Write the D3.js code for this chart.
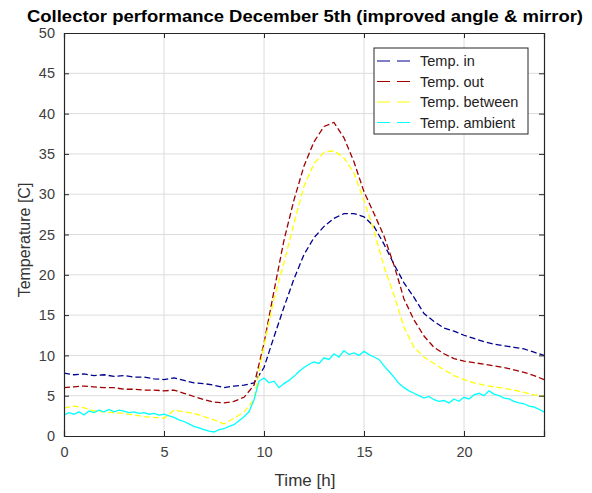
<!DOCTYPE html>
<html><head><meta charset="utf-8">
<script src="https://cdn.jsdelivr.net/npm/d3@7"></script>
<style>body{margin:0;background:#fff;} svg{display:block;font-family:"Liberation Sans",Arial,sans-serif;}</style>
</head><body>
<script>
const hours = [0,0.5,1,1.5,2,2.5,3,3.5,4,4.5,5,5.5,6,6.5,7,7.5,8,8.5,9,9.5,10,10.5,11,11.5,12,12.5,13,13.5,14,14.5,15,15.5,16,16.5,17,17.5,18,18.5,19,19.5,20,20.5,21,21.5,22,22.5,23,23.5,24];
const tempIn = [7.8,7.6,7.7,7.5,7.6,7.4,7.5,7.3,7.3,7.1,7.0,7.2,6.9,6.6,6.5,6.3,6.0,6.2,6.3,6.6,8.5,12.3,16,19.5,22.5,24.6,26,27,27.6,27.6,27.2,26,23.8,21.3,19,17.2,15.2,14.2,13.4,13,12.5,12.1,11.7,11.4,11.2,11,10.8,10.4,10];
const tempOut = [6.0,6.1,6.2,6.1,6.0,6.0,5.8,5.8,5.7,5.7,5.6,5.7,5.3,4.9,4.5,4.2,4.1,4.3,4.8,6.3,11.5,18,24.3,29.3,33.5,36.5,38.4,38.9,37,34,30.3,27.6,24.8,21.2,17,14.4,12.4,11.0,10.2,9.6,9.3,9.1,8.9,8.7,8.5,8.2,7.9,7.5,7.0];
const tempBetween = [3.5,3.7,3.5,3.1,3.0,2.9,2.8,2.6,2.4,2.3,2.2,3.2,3.0,2.8,2.4,2.0,1.5,2.2,3.0,4.5,11.3,17,21.5,26.4,31,33.8,35.2,35.4,34.5,32.6,29.2,25.5,21,17.5,13.5,11,9.8,9.0,8.2,7.5,7.0,6.6,6.3,6.1,5.9,5.7,5.4,5.1,4.9];
const hoursQ = d3.range(0, 24.001, 0.25);
const tempAmbient = [2.6,2.9,2.7,3.0,2.6,3.1,2.9,3.2,3.0,3.3,3.0,3.2,3.1,2.9,3.0,2.8,2.9,2.7,2.8,2.6,2.7,2.5,2.3,2.0,1.8,1.5,1.2,1.0,0.8,0.6,0.5,0.8,0.9,1.2,1.4,1.9,2.4,3.0,4.5,6.8,7.2,6.6,6.8,6.0,6.5,6.9,7.4,8.0,8.5,8.9,9.2,9.0,9.7,9.5,10.2,9.8,10.6,10.1,10.3,10.0,10.5,10.1,9.8,9.5,8.7,8.0,7.3,6.5,6.0,5.6,5.3,5.0,4.7,4.9,4.5,4.3,4.4,4.1,4.6,4.3,4.8,4.6,5.1,5.3,5.0,5.6,5.2,5.0,4.7,4.6,4.3,4.1,4.0,3.7,3.6,3.3,3.0];
const seriesNames = ["Temp. in","Temp. out","Temp. between","Temp. ambient"];
const seriesColors = ["#00008f","#a00000","#ffff00","#00ffff"];
const xTicks = [0,5,10,15,20];
const yTicks = [0,5,10,15,20,25,30,35,40,45,50];
const titleText = "Collector performance December 5th (improved angle & mirror)";

const W=592,H=493, L=64,R=544,T=33,B=436;
const svg=d3.select("body").append("svg").attr("width",W).attr("height",H);
const x=d3.scaleLinear().domain([0,24]).range([L,R]);
const y=d3.scaleLinear().domain([0,50]).range([B,T]);
const ax="#262626";

// grid
svg.append("g").selectAll("line").data(xTicks.slice(1)).join("line")
 .attr("x1",d=>x(d)).attr("x2",d=>x(d)).attr("y1",T).attr("y2",B).attr("stroke","#dcdcdc").attr("stroke-width",1);
svg.append("g").selectAll("line").data(yTicks.slice(1,-1)).join("line")
 .attr("y1",d=>y(d)).attr("y2",d=>y(d)).attr("x1",L).attr("x2",R).attr("stroke","#dcdcdc").attr("stroke-width",1);

// series
const series=[
  {t:hours,v:tempIn,dash:"6,3"},
  {t:hours,v:tempOut,dash:"6,3"},
  {t:hours,v:tempBetween,dash:"6,3"},
  {t:hoursQ,v:tempAmbient,dash:null}
];
series.forEach((s,k)=>{
  const line=d3.line().x((d,i)=>x(s.t[i])).y(d=>y(d));
  const p=svg.append("path").datum(s.v).attr("d",line).attr("fill","none")
   .attr("stroke",seriesColors[k]).attr("stroke-width",1.3);
  if(s.dash) p.attr("stroke-dasharray",s.dash);
});

// axes
const xa=svg.append("g").attr("transform",`translate(0,${B})`).call(d3.axisBottom(x).tickValues(xTicks).tickSize(-5).tickPadding(11));
const xa2=svg.append("g").attr("transform",`translate(0,${T})`).call(d3.axisTop(x).tickValues(xTicks).tickSize(-5).tickFormat(""));
const ya=svg.append("g").attr("transform",`translate(${L},0)`).call(d3.axisLeft(y).tickValues(yTicks).tickSize(-5).tickPadding(9));
const ya2=svg.append("g").attr("transform",`translate(${R},0)`).call(d3.axisRight(y).tickValues(yTicks).tickSize(-5).tickFormat(""));
[xa,xa2,ya,ya2].forEach(g=>{
  g.selectAll("path").attr("stroke",ax).attr("stroke-width",1.2);
  g.selectAll("line").attr("stroke",ax);
  g.selectAll("text").attr("fill","#404040").style("font-size","14.5px").style("font-family","'Liberation Sans',Arial,sans-serif");
});

svg.append("text").attr("x",27).attr("y",22)
 .attr("textLength",556).attr("lengthAdjust","spacingAndGlyphs")
 .style("font-weight","bold").style("font-size","16.5px").attr("fill","#000").text(titleText);
svg.append("text").attr("x",305).attr("y",486).attr("text-anchor","middle")
 .style("font-size","17px").attr("fill","#333").text("Time [h]");
svg.append("text").attr("transform","translate(30,240) rotate(-90)").attr("text-anchor","middle")
 .style("font-size","16px").attr("fill","#333").text("Temperature [C]");

// legend
const lg=svg.append("g");
lg.append("rect").attr("x",374).attr("y",48).attr("width",154).attr("height",86).attr("fill","#fff").attr("stroke",ax).attr("stroke-width",1);
seriesNames.forEach((n,i)=>{
  const cy=61+i*20.5;
  lg.append("line").attr("x1",377).attr("x2",411).attr("y1",cy).attr("y2",cy)
   .attr("stroke",seriesColors[i]).attr("stroke-width",1.2).attr("stroke-dasharray","13,7");
  lg.append("text").attr("x",420).attr("y",cy+5).style("font-size","14.5px").attr("fill","#222").text(n);
});
</script>
</body></html>
